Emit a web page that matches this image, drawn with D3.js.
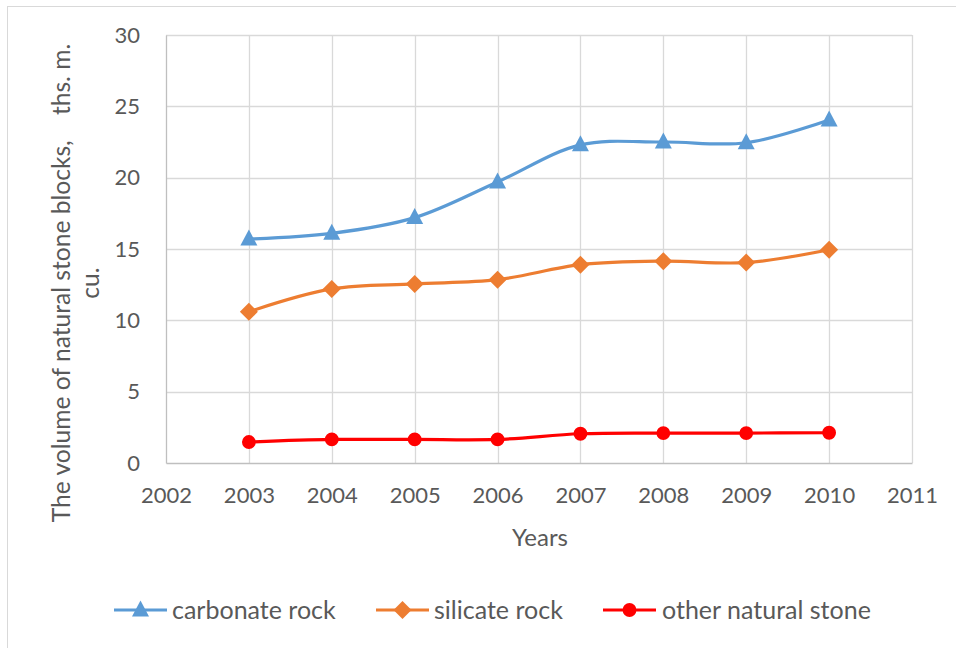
<!DOCTYPE html>
<html>
<head>
<meta charset="utf-8">
<script src="https://cdn.jsdelivr.net/npm/d3@7"></script>
<style>
  html, body { margin: 0; padding: 0; background: #fff; }
  svg { display: block; font-family: Lato, "Open Sans", sans-serif; }
</style>
</head>
<body>
<svg id="chart" width="956" height="648"></svg>
<script>
// ---- data ----
const years = [2003, 2004, 2005, 2006, 2007, 2008, 2009, 2010];
const carbonateRock = [15.7, 16.1, 17.2, 19.7, 22.3, 22.5, 22.45, 24.05];
const silicateRock = [10.6, 12.2, 12.55, 12.85, 13.9, 14.15, 14.05, 14.95];
const otherNaturalStone = [1.47, 1.65, 1.65, 1.65, 2.05, 2.1, 2.1, 2.12];
const seriesNames = ["carbonate rock", "silicate rock", "other natural stone"];
const xTicks = [2002, 2003, 2004, 2005, 2006, 2007, 2008, 2009, 2010, 2011];
const yTicks = [0, 5, 10, 15, 20, 25, 30];
const xTitle = "Years";
const yTitleLines = ["The volume of natural stone blocks,    ths. m.", "cu."];

// ---- setup ----
const svg = d3.select("#chart");
const plot = { left: 166, right: 912, top: 35, bottom: 463 };
const textColor = "#595959";

svg.append("rect").attr("x", 7.5).attr("y", 6.5).attr("width", 990).attr("height", 700)
  .attr("fill", "#fff").attr("stroke", "#d9d9d9").attr("stroke-width", 1);

const x = d3.scaleLinear().domain([2002, 2011]).range([plot.left, plot.right]);
const y = d3.scaleLinear().domain([0, 30]).range([plot.bottom, plot.top]);

// grid
const grid = svg.append("g");
grid.selectAll("line.h").data(yTicks.filter(d => d > 0)).enter().append("line")
  .attr("x1", plot.left).attr("x2", plot.right)
  .attr("y1", d => Math.round(y(d)) + 0.5).attr("y2", d => Math.round(y(d)) + 0.5)
  .attr("stroke", "#d9d9d9").attr("stroke-width", 1.3);
grid.selectAll("line.v").data(xTicks.filter(d => d > 2002)).enter().append("line")
  .attr("y1", plot.top).attr("y2", plot.bottom)
  .attr("x1", d => Math.round(x(d)) + 0.5).attr("x2", d => Math.round(x(d)) + 0.5)
  .attr("stroke", "#d9d9d9").attr("stroke-width", 1.3);

// axes
const yAxis = d3.axisLeft(y).tickValues(yTicks).tickSize(0).tickPadding(26);
const gy = svg.append("g").attr("transform", `translate(${plot.left},0)`).call(yAxis);
gy.select(".domain").attr("stroke", "#bfbfbf").attr("stroke-width", 1.3);
gy.selectAll("text").attr("fill", textColor).style("font-size", "22px").style("font-family", "Lato, sans-serif");

const xAxis = d3.axisBottom(x).tickValues(xTicks).tickFormat(d3.format("d")).tickSize(0).tickPadding(24);
const gx = svg.append("g").attr("transform", `translate(0,${plot.bottom})`).call(xAxis);
gx.select(".domain").attr("stroke", "#bfbfbf").attr("stroke-width", 1.3);
gx.selectAll("text").attr("fill", textColor).style("font-size", "22px").style("font-family", "Lato, sans-serif");

// axis titles
svg.append("text").attr("x", (plot.left + plot.right) / 2 + 1).attr("y", 546)
  .attr("text-anchor", "middle").attr("fill", textColor).style("font-size", "24px").text(xTitle);

const yt = svg.append("g").attr("transform", "translate(0,283)");
yTitleLines.forEach((t, i) => {
  yt.append("text").attr("transform", `translate(${70 + i * 29},0) rotate(-90)`)
    .attr("text-anchor", "middle").attr("fill", textColor)
    .style("font-size", "24.6px").style("white-space", "pre").attr("xml:space", "preserve").text(t);
});

// series
const series = [
  { name: seriesNames[0], values: carbonateRock, color: "#5b9bd5", kind: "triangle" },
  { name: seriesNames[1], values: silicateRock, color: "#ed7d31", kind: "diamond" },
  { name: seriesNames[2], values: otherNaturalStone, color: "#ff0000", kind: "circle" }
];

function markerPath(s) {
  if (s.kind === "diamond") {
    const r = 9;
    return `M0,${-r}L${r},0L0,${r}L${-r},0Z`;
  }
  if (s.kind === "triangle") {
    return "M0,-9.5L8.5,6.5L-8.5,6.5Z";
  }
  return d3.symbol().type(d3.symbolCircle).size(150)();
}

const line = d3.line().x((d, i) => x(years[i])).y(d => y(d)).curve(d3.curveCatmullRom.alpha(0.5));

series.forEach(s => {
  const g = svg.append("g");
  g.append("path").attr("d", line(s.values)).attr("fill", "none")
    .attr("stroke", s.color).attr("stroke-width", 3.2).attr("stroke-linejoin", "round");
  g.selectAll("path.m").data(s.values).enter().append("path")
    .attr("transform", (d, i) => `translate(${x(years[i])},${y(d)})`)
    .attr("d", markerPath(s)).attr("fill", s.color);
});

// legend
const legendItems = [
  { x0: 114, tx: 172 },
  { x0: 376, tx: 434 },
  { x0: 603, tx: 662 }
];
const ly = 610;
series.forEach((s, i) => {
  const it = legendItems[i];
  const g = svg.append("g");
  g.append("line").attr("x1", it.x0).attr("x2", it.x0 + 53).attr("y1", ly).attr("y2", ly)
    .attr("stroke", s.color).attr("stroke-width", 3.2);
  g.append("path").attr("transform", `translate(${it.x0 + 26.5},${ly})`).attr("d", markerPath(s)).attr("fill", s.color);
  g.append("text").attr("x", it.tx).attr("y", ly + 8.5).attr("fill", textColor)
    .style("font-size", "25px").text(s.name);
});
</script>
</body>
</html>
